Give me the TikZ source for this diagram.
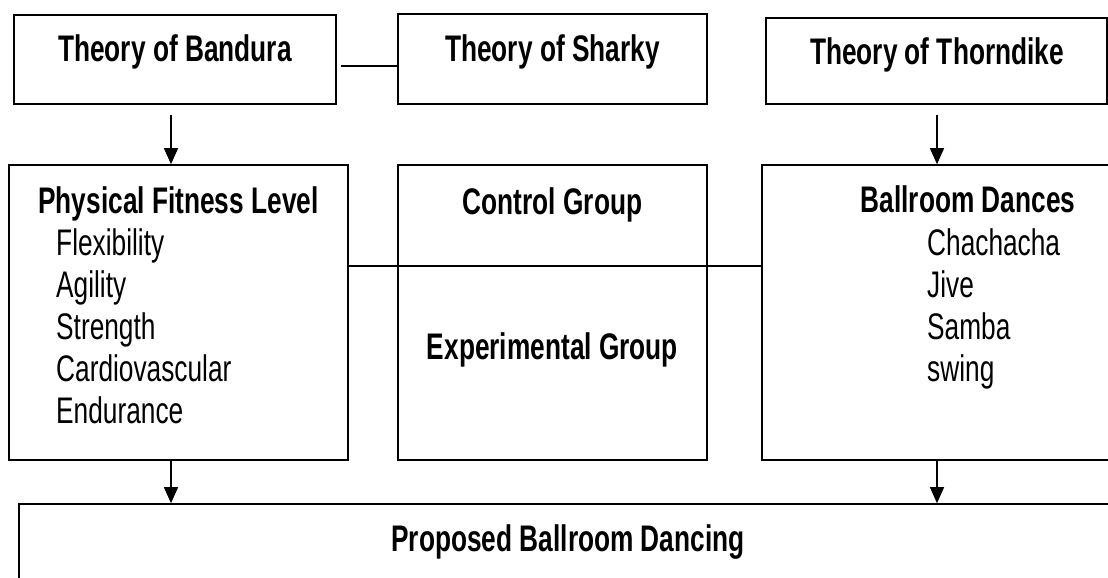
\documentclass[tikz,border=0pt]{standalone}
\usepackage{fontspec}
\setmainfont{Liberation Sans}[FakeStretch=0.71]
\usetikzlibrary{arrows.meta,calc}
\tikzset{
  box/.style={draw, line width=1.6pt, inner sep=0pt, minimum width=#1},
  ttl/.style={font=\bfseries\fontsize{37}{42}\selectfont, inner sep=0pt, anchor=base},
  itm/.style={font=\fontsize{37}{42}\selectfont, inner sep=0pt, anchor=base west},
  arr/.style={line width=1.3pt, -{Triangle[width=14pt,length=16pt]}},
  conn/.style={line width=1.4pt}
}
\begin{document}
\begin{tikzpicture}[x=1pt,y=1pt]
\useasboundingbox (0,0) rectangle (1108,578);
\clip (0,0) rectangle (1108,578);
\fill[white] (0,0) rectangle (1108,578);
% boxes
\node[box=322pt, minimum height=89pt] (bandura) at (175,518.5) {};
\node[box=309pt, minimum height=90pt] (sharky) at (552.5,519) {};
\node[box=341pt, minimum height=86pt] (thorn) at (936.5,517) {};
\node[box=339pt, minimum height=295pt] (phys) at (178.5,265.5) {};
\node[box=309pt, minimum height=295pt] (mid) at (552.5,265.5) {};
\node[box=412pt, minimum height=295pt] (ball) at (968,265.5) {};
\node[box=1098pt, minimum height=116pt] (prop) at (568,16) {};
% titles
\node[ttl] (tband) at (175,516.3) {Theory of Bandura};
\node[ttl] (tshark) at (552.5,516) {Theory of Sharky};
\node[ttl] (tthorn) at (937,513) {Theory of Thorndike};
\node[ttl] (tphys) at (178.5,364) {Physical Fitness Level};
\node[itm] (i1) at (56,322) {Flexibility};
\node[itm] (i2) at (56,280) {Agility};
\node[itm] (i3) at (56,238) {Strength};
\node[itm] (i4) at (56,196) {Cardiovascular};
\node[itm] (i5) at (56,154) {Endurance};
\node[ttl] (tctrl) at (552.5,363) {Control Group};
\node[ttl] (texp) at (552.5,218) {Experimental Group};
\node[ttl] (tball) at (968,365) {Ballroom Dances};
\node[itm] (d1) at (927,322) {Chachacha};
\node[itm] (d2) at (927,280) {Jive};
\node[itm] (d3) at (927,238) {Samba};
\node[itm] (d4) at (927,196) {swing};
\node[ttl] (tprop) at (568,26) {Proposed Ballroom Dancing};
% connectors
\coordinate (lb) at ([xshift=4pt,yshift=-6.5pt]bandura.east);
\draw[conn] (lb) -- (sharky.west |- lb);
\coordinate (lm) at ([yshift=46.5pt]phys.east);
\draw[conn] (lm) -- (ball.west |- lm);
\coordinate (a1) at ([xshift=-4pt,yshift=-10pt]bandura.south);
\draw[arr] (a1) -- (a1 |- phys.north);
\coordinate (a2) at ([xshift=0.5pt,yshift=-10pt]thorn.south);
\draw[arr] (a2) -- (a2 |- ball.north);
\coordinate (a3) at ([xshift=-7.5pt]phys.south);
\draw[arr] (a3) -- (a3 |- prop.north);
\coordinate (a4) at (a2 |- ball.south);
\draw[arr] (a4) -- (a4 |- prop.north);
\end{tikzpicture}
\end{document}
